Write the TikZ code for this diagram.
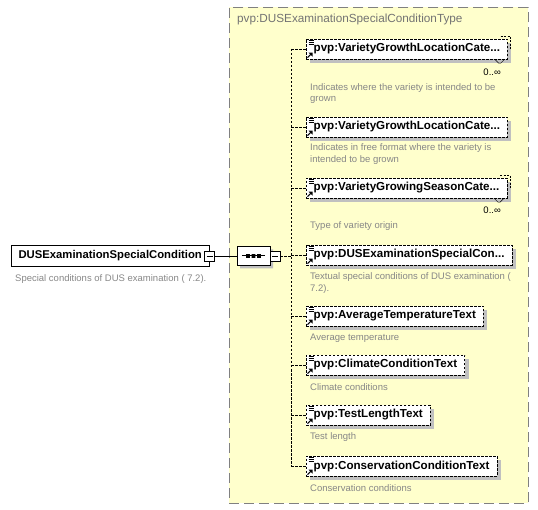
\documentclass[tikz,border=0pt]{standalone}
\usepackage{fontspec}
\setmainfont{Liberation Sans}
\usetikzlibrary{positioning,calc,shadows,shapes.misc}
\definecolor{typeY}{RGB}{255,255,204}
\definecolor{typeB}{RGB}{128,128,128}
\definecolor{descG}{RGB}{135,135,135}
\definecolor{shadG}{RGB}{192,192,192}

% element icon: lines at top left, arrow at bottom left
\newcommand\elemicon[1]{%
  \draw[line width=0.9pt] ($(#1.north west)+(2.5,1.5)$) -- ++(5,0)
    ($(#1.north west)+(2.5,3.5)$) -- ++(5,0)
    ($(#1.north west)+(2.5,5.5)$) -- ++(5,0);
  \draw[line width=1.1pt] ($(#1.south west)+(1.5,-1.5)$) -- ++(3.5,-3.5);
  \fill ($(#1.south west)+(6.5,-6.5)$) -- ++(-4,0) -- ++(4,4) -- cycle;}
% multiple occurrence marks
\newcommand\multimark[1]{%
  \draw[dash pattern=on 2pt off 1.5pt] ($(#1.north east)+(-7,-2.5)$) -| ($(#1.east)+(3,1)$);
  \draw ($(#1.south east)+(-13,0)$) -- ++(4,4) -- ++(2,0) -- ++(4,-4);}

\begin{document}
\begin{tikzpicture}[x=1pt, y=-1pt,
  lbl/.style={font=\fontsize{11.6}{13}\selectfont\bfseries},
  elem/.style={lbl, draw, fill=white, dash pattern=on 2.5pt off 1.5pt,
               minimum height=20pt, inner ysep=0pt, inner xsep=7.5pt, anchor=west,
               general shadow={shadow xshift=4pt, shadow yshift=-4pt, fill=shadG}},
  desc/.style={font=\fontsize{9.5}{11.5}\selectfont, text=descG, align=left,
               anchor=west, inner sep=0pt},
  mult/.style={font=\fontsize{9.5}{11.5}\selectfont, anchor=east, inner sep=0pt},
  minbox/.style={draw, fill=white, minimum size=10pt, inner sep=0pt,
                 path picture={\draw ($(path picture bounding box.west)+(2,0)$)
                   -- ($(path picture bounding box.east)+(-2,0)$);}},
  link/.style={dash pattern=on 2.5pt off 1.5pt}]

  \useasboundingbox (0,0) rectangle (538,510);

  % complex type box
  \node[draw=typeB, fill=typeY, line width=0.9pt, dash pattern=on 10pt off 5pt,
        minimum width=299pt, minimum height=496pt, anchor=north west] (type) at (229,7) {};
  \node[font=\fontsize{11.75}{13}\selectfont, text=typeB!90!black, anchor=west, inner sep=0pt]
    (typename) at (237,19) {pvp:DUSExaminationSpecialConditionType};

  % root element
  \node[lbl, font=\fontsize{11.3}{13}\selectfont\bfseries, draw, fill=white,
        minimum width=198pt, minimum height=21pt, inner sep=0pt, anchor=west]
    (root) at (11,256) {DUSExaminationSpecialCondition\hspace{12pt}};
  \node[minbox] (rootmin) at (209.5,256) {};
  \node[desc] (rootdesc) at (15,279) {Special conditions of DUS examination ( 7.2).};

  % sequence compositor
  \node[draw, fill=white, chamfered rectangle, chamfered rectangle xsep=4pt,
        minimum width=33pt, minimum height=19pt, inner sep=0pt,
        general shadow={shadow xshift=3pt, shadow yshift=-3pt, fill=shadG}] (seq) at (253.5,256) {};
  \draw[line width=1pt] ($(seq.west)+(5,0)$) -- ($(seq.east)+(-5,0)$);
  \fill (248,256) +(-1.8,-1.8) rectangle +(1.8,1.8)
        (253.5,256) +(-1.8,-1.8) rectangle +(1.8,1.8)
        (259,256) +(-1.8,-1.8) rectangle +(1.8,1.8);
  \node[minbox] (seqmin) at (275,256) {};
  \coordinate (spine) at (291,256);

  \draw (rootmin) -- (seq);
  \draw[link] (seqmin) -- (spine);

  % child elements
  \node[elem] (c1) at (306,49)  {pvp:VarietyGrowthLocationCate...};
  \node[elem] (c2) at (306,127) {pvp:VarietyGrowthLocationCate...};
  \node[elem] (c3) at (306,188) {pvp:VarietyGrowingSeasonCate...};
  \node[elem] (c4) at (306,255) {pvp:DUSExaminationSpecialCon...};
  \node[elem] (c5) at (306,316) {pvp:AverageTemperatureText};
  \node[elem] (c6) at (306,365) {pvp:ClimateConditionText};
  \node[elem] (c7) at (306,415) {pvp:TestLengthText};
  \node[elem] (c8) at (306,466) {pvp:ConservationConditionText};

  \node[mult] (m1) at (501,72)  {0..∞};
  \node[mult] (m3) at (501,210) {0..∞};
  \multimark{c1}
  \multimark{c3}

  \elemicon{c1} \elemicon{c2} \elemicon{c3} \elemicon{c4}
  \elemicon{c5} \elemicon{c6} \elemicon{c7} \elemicon{c8}

  \node[desc] (d1) at (310,93.5) {Indicates where the variety is intended to be\\grown};
  \node[desc] (d2) at (310,154)  {Indicates in free format where the variety is\\intended to be grown};
  \node[desc] (d3) at (310,226)  {Type of variety origin};
  \node[desc] (d4) at (310,283)  {Textual special conditions of DUS examination (\\7.2).};
  \node[desc] (d5) at (310,338)  {Average temperature};
  \node[desc] (d6) at (310,387)  {Climate conditions};
  \node[desc] (d7) at (310,437)  {Test length};
  \node[desc] (d8) at (310,488)  {Conservation conditions};

  % connectors from the sequence spine
  \draw[link] (spine |- c1) -- (spine |- c8);
  \draw[link] (spine |- c1) -- (c1);
  \draw[link] (spine |- c2) -- (c2);
  \draw[link] (spine |- c3) -- (c3);
  \draw[link] (spine |- c4) -- (c4);
  \draw[link] (spine |- c5) -- (c5);
  \draw[link] (spine |- c6) -- (c6);
  \draw[link] (spine |- c7) -- (c7);
  \draw[link] (spine |- c8) -- (c8);
\end{tikzpicture}
\end{document}
